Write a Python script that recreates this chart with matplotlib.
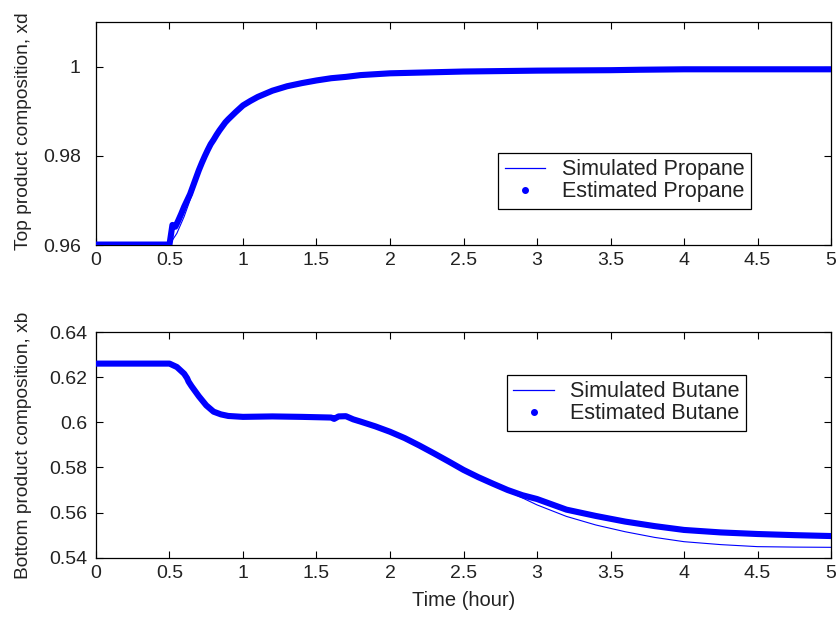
import matplotlib
matplotlib.use("Agg")
import matplotlib.pyplot as plt
from matplotlib.lines import Line2D

plt.rcParams['font.family'] = ['Liberation Sans', 'DejaVu Sans']

# ---------------- data ----------------
# Top: propane composition
t_sim_top = [0, 0.5, 0.55, 0.6, 0.65, 0.7, 0.75, 0.8, 0.85, 0.9, 1.0, 1.1, 1.2, 1.3,
             1.4, 1.5, 1.75, 2.0, 2.5, 3.0, 3.5, 4.0, 5.0]
xd_sim = [0.9601, 0.9601, 0.9626, 0.9664, 0.9710, 0.9758, 0.9800, 0.9832, 0.9858, 0.9880,
          0.9912, 0.9931, 0.9945, 0.9955, 0.9963, 0.9969, 0.9979, 0.9985, 0.9989, 0.9991,
          0.9992, 0.9993, 0.9994]

t_est_top = [0, 0.1, 0.2, 0.3, 0.4, 0.5, 0.52, 0.54, 0.56, 0.58, 0.6, 0.62, 0.64, 0.66,
             0.68, 0.7, 0.72, 0.74, 0.76, 0.78, 0.8, 0.82, 0.84, 0.86, 0.88, 0.9, 0.95,
             1.0, 1.05, 1.1, 1.2, 1.3, 1.4, 1.5, 1.6, 1.7, 1.8, 1.9, 2.0, 2.25, 2.5,
             2.75, 3.0, 3.5, 3.7, 4.0, 4.5, 5.0]
xd_est = [0.9601, 0.9601, 0.9601, 0.9601, 0.9601, 0.9601, 0.9645, 0.9641, 0.9655, 0.9670,
          0.9686, 0.9700, 0.9714, 0.9732, 0.9750, 0.9768, 0.9784, 0.9799, 0.9813, 0.9826,
          0.9836, 0.9847, 0.9857, 0.9866, 0.9875, 0.9882, 0.9898, 0.9913, 0.9923, 0.9932,
          0.9946, 0.9956, 0.9963, 0.9969, 0.9974, 0.9977, 0.9981, 0.9983, 0.9985, 0.9987,
          0.9989, 0.9990, 0.9991, 0.9992, 0.9993, 0.9994, 0.9994, 0.9994]

# Bottom: butane composition
t_bot = [0, 0.1, 0.2, 0.3, 0.4, 0.5, 0.55, 0.6, 0.62, 0.63, 0.65, 0.7, 0.75, 0.8, 0.85,
         0.9, 1.0, 1.2, 1.4, 1.6, 1.62, 1.65, 1.7, 1.75, 1.8, 1.9, 2.0, 2.1, 2.2, 2.3,
         2.4, 2.5, 2.6, 2.7, 2.8, 2.9, 3.0, 3.2, 3.4, 3.6, 3.8, 4.0, 4.25, 4.5, 4.75, 5.0]
xb_est = [0.6260, 0.6260, 0.6260, 0.6260, 0.6260, 0.6260, 0.6245, 0.6215, 0.6195, 0.6180,
          0.6160, 0.6115, 0.6075, 0.6047, 0.6035, 0.6028, 0.6024, 0.6026, 0.6024, 0.6021,
          0.6015, 0.6026, 0.6027, 0.6013, 0.6003, 0.5982, 0.5958, 0.5930, 0.5897, 0.5862,
          0.5826, 0.5789, 0.5757, 0.5728, 0.5700, 0.5677, 0.5660, 0.5613, 0.5585, 0.5560,
          0.5540, 0.5523, 0.5512, 0.5505, 0.5500, 0.5496]
xb_sim = [0.6260, 0.6260, 0.6260, 0.6260, 0.6260, 0.6260, 0.6245, 0.6215, 0.6195, 0.6180,
          0.6160, 0.6115, 0.6075, 0.6047, 0.6035, 0.6028, 0.6024, 0.6026, 0.6024, 0.6021,
          0.6015, 0.6026, 0.6027, 0.6013, 0.6003, 0.5982, 0.5958, 0.5930, 0.5897, 0.5862,
          0.5826, 0.5789, 0.5757, 0.5726, 0.5695, 0.5665, 0.5634, 0.5583, 0.5545, 0.5515,
          0.5490, 0.5471, 0.5458, 0.5449, 0.5447, 0.5446]

x_ticks = [0, 0.5, 1, 1.5, 2, 2.5, 3, 3.5, 4, 4.5, 5]
x_ticklabels = ['0', '0.5', '1', '1.5', '2', '2.5', '3', '3.5', '4', '4.5', '5']
top_yticks = [0.96, 0.98, 1.0]
top_yticklabels = ['0.96', '0.98', '1']
bot_yticks = [0.54, 0.56, 0.58, 0.60, 0.62, 0.64]
bot_yticklabels = ['0.54', '0.56', '0.58', '0.6', '0.62', '0.64']

BLUE = '#0000ff'
TXT = '#222222'

fig = plt.figure(figsize=(8.39, 6.17), dpi=100)
ax1 = fig.add_axes([0.1144, 0.6029, 0.8761, 0.3614])
ax2 = fig.add_axes([0.1144, 0.0961, 0.8761, 0.3658])


def style(ax, ypad):
    ax.tick_params(direction='in', top=True, right=True, length=5, width=0.8,
                   labelsize=14, color='black', labelcolor=TXT)
    ax.tick_params(axis='x', pad=5)
    ax.tick_params(axis='y', pad=ypad)
    for s in ax.spines.values():
        s.set_linewidth(0.9)
        s.set_color('black')
    ax.set_xlim(0, 5)
    ax.set_xticks(x_ticks)
    ax.set_xticklabels(x_ticklabels)


leg_kw = dict(loc='upper left', fontsize=15.5, fancybox=False, framealpha=1,
              edgecolor='black', borderaxespad=0, handlelength=1.9,
              borderpad=0.3, labelspacing=0.05, handletextpad=0.75)

h_sim = Line2D([], [], color=BLUE, lw=0.9)
h_est = Line2D([], [], color=BLUE, ls='none', marker='.', ms=8)

# top
ax1.plot(t_sim_top, xd_sim, color=BLUE, lw=0.8, zorder=2)
ax1.plot(t_est_top, xd_est, color=BLUE, lw=4.4, solid_capstyle='round',
         solid_joinstyle='round', zorder=3)
style(ax1, 11)
ax1.set_ylim(0.96, 1.01)
ax1.set_yticks(top_yticks)
ax1.set_yticklabels(top_yticklabels)
ax1.set_ylabel('Top product composition, xd', fontsize=13.8, color=TXT)
ax1.yaxis.set_label_coords(-0.087, 0.51)

leg1 = ax1.legend([h_sim, h_est], ['Simulated Propane', 'Estimated Propane'],
                  bbox_to_anchor=(0.547, 0.413), **leg_kw)
leg1.get_frame().set_linewidth(0.9)
for t in leg1.get_texts():
    t.set_color(TXT)

# bottom
ax2.plot(t_bot, xb_sim, color=BLUE, lw=0.8, zorder=2)
ax2.plot(t_bot, xb_est, color=BLUE, lw=4.4, solid_capstyle='round',
         solid_joinstyle='round', zorder=3)
style(ax2, 6)
ax2.set_ylim(0.54, 0.64)
ax2.set_yticks(bot_yticks)
ax2.set_yticklabels(bot_yticklabels)
ax2.set_ylabel('Bottom product composition, xb', fontsize=13.8, color=TXT)
ax2.yaxis.set_label_coords(-0.087, 0.5)
ax2.set_xlabel('Time (hour)', fontsize=14.5, color=TXT, labelpad=7)

leg2 = ax2.legend([h_sim, h_est], ['Simulated Butane', 'Estimated Butane'],
                  bbox_to_anchor=(0.559, 0.81), **leg_kw)
leg2.get_frame().set_linewidth(0.9)
for t in leg2.get_texts():
    t.set_color(TXT)

fig.savefig('out.png', dpi=100)
